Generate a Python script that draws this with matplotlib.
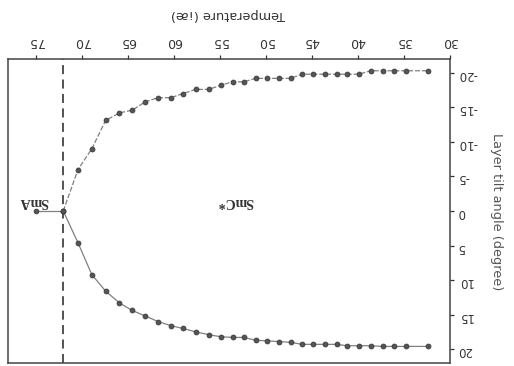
import matplotlib
matplotlib.use("Agg")
import matplotlib.pyplot as plt

plt.rcParams["axes.unicode_minus"] = False

# ---- data ----
temperature = [72.0, 70.4, 68.9, 67.4, 65.9, 64.5, 63.1, 61.7, 60.3, 59.0,
               57.6, 56.2, 54.9, 53.6, 52.4, 51.1, 49.9, 48.6, 47.3, 46.1,
               44.9, 43.6, 42.3, 41.2, 39.9, 38.6, 37.3, 36.1, 34.8, 32.4]
tilt_negative = [0.0, -6.0, -9.0, -13.1, -14.2, -14.6, -15.8, -16.4, -16.4, -17.0,
                 -17.6, -17.6, -18.2, -18.7, -18.7, -19.2, -19.2, -19.2, -19.2, -19.8,
                 -19.8, -19.8, -19.8, -19.8, -19.8, -20.3, -20.3, -20.3, -20.3, -20.3]
tilt_positive = [0.0, 4.6, 9.2, 11.6, 13.3, 14.4, 15.2, 16.0, 16.6, 17.0,
                 17.5, 17.9, 18.2, 18.3, 18.3, 18.7, 18.8, 18.9, 19.0, 19.3,
                 19.3, 19.3, 19.3, 19.5, 19.5, 19.5, 19.6, 19.6, 19.6, 19.6]
sma_temperature = [75.0, 72.0]
sma_tilt = [0.0, 0.0]
transition_temperature = 72.0

x_ticks = [30, 35, 40, 45, 50, 55, 60, 65, 70, 75]
y_ticks = [-20, -15, -10, -5, 0, 5, 10, 15, 20]
x_label = "Temperature (¡æ)"
y_label = "Layer tilt angle (degree)"
phase_labels = ["SmA", "SmC*"]
phase_label_pos = [(75.2, -1.4), (53.3, -1.4)]

# ---- figure ----
W, H = 514, 366
fig = plt.figure(figsize=(W / 100, H / 100), dpi=100)
fig.patch.set_facecolor("white")
ax = fig.add_axes([8 / W, 3 / H, 442 / W, 304 / H])

line_col = "#808080"
mark_col = "#555555"

ax.plot(sma_temperature, sma_tilt, color=line_col, lw=0.9, zorder=2)
ax.plot(sma_temperature[:1], sma_tilt[:1], 'o', ms=3.4, color=mark_col,
        mec="#3a3a3a", mew=0.6, zorder=3)
for series, ls in ((tilt_negative, (0, (4, 1.5))), (tilt_positive, '-')):
    ax.plot(temperature, series, color=line_col, lw=0.9, ls=ls, zorder=2)
    ax.plot(temperature, series, 'o', ms=3.5, color=mark_col,
            mec="#3a3a3a", mew=0.6, zorder=3)

ax.axvline(transition_temperature, color="#444444", lw=1.3,
           dashes=(5, 3), zorder=1)

for txt, (tx, ty) in zip(phase_labels, phase_label_pos):
    ax.text(tx, ty, txt, rotation=180, ha="center", va="center",
            family="Liberation Serif", fontsize=10, fontweight="bold",
            color="#333333")

ax.set_xlim(78, 30)
ax.set_ylim(22, -22)
ax.xaxis.tick_top()
ax.yaxis.tick_right()
ax.set_xticks(x_ticks)
ax.set_yticks(y_ticks)
ax.tick_params(axis="x", direction="out", length=3, width=0.9, pad=5,
               labelsize=9, labelrotation=180, colors="#333333")
ax.tick_params(axis="y", direction="out", length=3, width=0.9, pad=2.5,
               labelsize=8.5, labelrotation=180, colors="#333333")
for s in ax.spines.values():
    s.set_color("#444444")
    s.set_linewidth(1.1)

fig.text(228 / W, 1 - 15 / H, x_label, rotation=180, ha="center", va="center",
         fontsize=9.3, color="#333333")
fig.text(497 / W, 1 - 212 / H, y_label, rotation=270, ha="center", va="center",
         fontsize=9.3, color="#555555")

fig.savefig("out.png", dpi=100, facecolor="white")
